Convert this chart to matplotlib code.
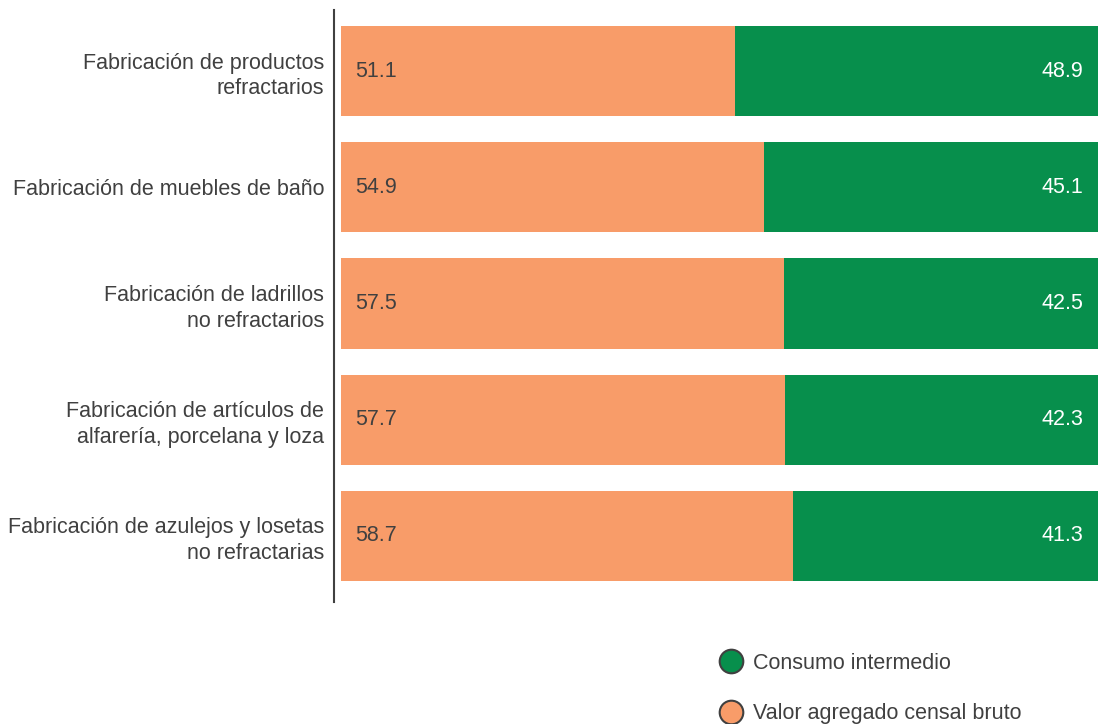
import matplotlib.pyplot as plt
from matplotlib.lines import Line2D

plt.rcParams['font.family'] = ['Liberation Sans', 'DejaVu Sans']

categorias = [
    "Fabricación de productos\nrefractarios",
    "Fabricación de muebles de baño",
    "Fabricación de ladrillos\nno refractarios",
    "Fabricación de artículos de\nalfarería, porcelana y loza",
    "Fabricación de azulejos y losetas\nno refractarias",
]
valor_agregado = [51.1, 54.9, 57.5, 57.7, 58.7]
consumo_intermedio = [48.9, 45.1, 42.5, 42.3, 41.3]

NARANJA = "#F89C69"
VERDE = "#078F4C"
GRIS = "#404040"
FS = 15.5

fig = plt.figure(figsize=(10.98, 7.24), dpi=100)
ax = fig.add_axes([334 / 1098, 1 - 602 / 724, 1 - 334 / 1098, 592 / 724])

y = list(range(len(categorias)))
ax.barh(y, valor_agregado, height=0.775, color=NARANJA)
ax.barh(y, consumo_intermedio, left=valor_agregado, height=0.775, color=VERDE)

for i, (va, ci) in enumerate(zip(valor_agregado, consumo_intermedio)):
    ax.text(1.8, i, f"{va:.1f}", va="center", ha="left", color=GRIS, fontsize=FS)
    ax.text(96.4, i, f"{ci:.1f}", va="center", ha="right", color="white", fontsize=FS)

# las barras se salen un poco por la derecha, como en el original
ax.set_xlim(-0.91, 98.3)
ax.set_ylim(4.568, -0.525)
ax.set_yticks(y)
ax.set_yticklabels(categorias, fontsize=FS, color=GRIS, linespacing=1.3)
ax.tick_params(axis="y", length=0, pad=7)
ax.set_xticks([])
for lado in ["top", "right", "bottom"]:
    ax.spines[lado].set_visible(False)
ax.spines["left"].set_color(GRIS)
ax.spines["left"].set_linewidth(1.5)

manejadores = [
    Line2D([], [], marker="o", linestyle="", markersize=17, markerfacecolor=VERDE,
           markeredgecolor=GRIS, markeredgewidth=1.5, label="Consumo intermedio"),
    Line2D([], [], marker="o", linestyle="", markersize=17, markerfacecolor=NARANJA,
           markeredgecolor=GRIS, markeredgewidth=1.5, label="Valor agregado censal bruto"),
]
leg = fig.legend(handles=manejadores, loc="upper left", bbox_to_anchor=(706 / 1098, 1 - 644 / 724),
                 frameon=False, fontsize=FS, labelspacing=1.37, handletextpad=0.28,
                 handlelength=1.5, borderaxespad=0)
for t in leg.get_texts():
    t.set_color(GRIS)

fig.savefig("out.png", dpi=100)
